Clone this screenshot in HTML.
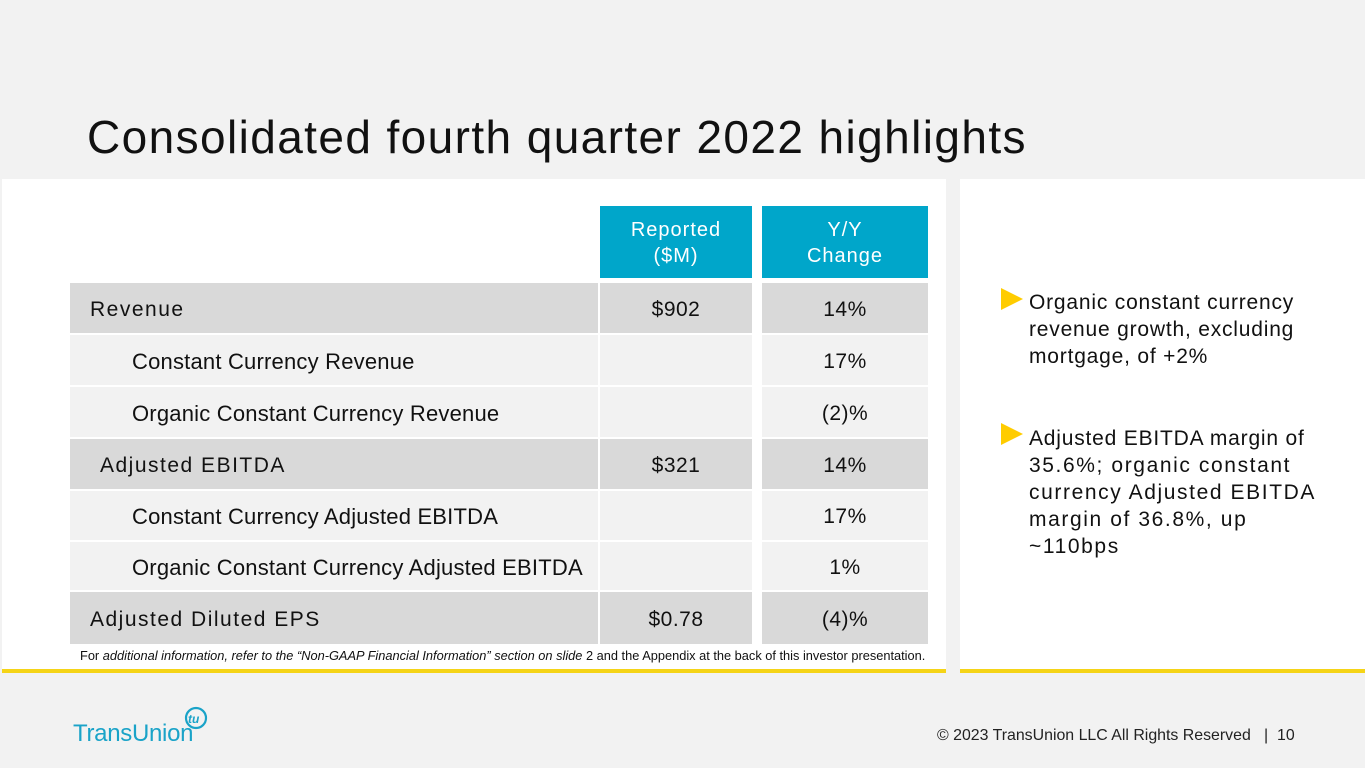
<!DOCTYPE html>
<html><head><meta charset="utf-8"><style>
body{margin:0;width:1365px;height:768px;background:#f2f2f2;font-family:"Liberation Sans",sans-serif;position:relative;overflow:hidden;color:#111}
.a{position:absolute}
.cell{position:absolute;display:flex;align-items:center;font-size:21px;box-sizing:border-box;padding-top:3px}
.d{background:#d9d9d9}.l{background:#f2f2f2}
.c{justify-content:center}
.h{background:#00a6ca;color:#fff;justify-content:center;text-align:center;line-height:26px;letter-spacing:1px;font-size:20px;padding-top:2px}
.tri{width:0;height:0;border-top:11px solid transparent;border-bottom:11px solid transparent;border-left:22px solid #ffcc00}
.bt{font-size:21px;line-height:27px;letter-spacing:0.8px}
</style></head><body>
<div class="a" style="left:87px;top:110px;font-size:46px;letter-spacing:1.4px;color:#111">Consolidated fourth quarter 2022 highlights</div>
<div class="a" style="left:2px;top:179px;width:944px;height:490px;background:#fff;border-bottom:4px solid #f5d417"></div>
<div class="a" style="left:960px;top:179px;width:405px;height:490px;background:#fff;border-bottom:4px solid #f5d417"></div>

<div class="cell h" style="left:600px;top:206px;width:152px;height:72px">Reported<br>($M)</div>
<div class="cell h" style="left:762px;top:206px;width:166px;height:72px">Y/Y<br>Change</div>

<div id="rows"></div>

<div class="a" style="left:80px;top:648px;font-size:12.8px;color:#111">For <i>additional information, refer to the “Non-GAAP Financial Information” section on slide</i> 2 and the Appendix at the back of this investor presentation.</div>

<div class="a tri" style="left:1001px;top:288px"></div>
<div class="a bt" style="left:1029px;top:289px;width:336px">Organic constant currency<br>revenue growth, excluding<br>mortgage, of +2%</div>
<div class="a tri" style="left:1001px;top:423px"></div>
<div class="a bt" style="left:1029px;top:425px;width:336px">Adjusted EBITDA margin of<br><span style="letter-spacing:1.6px">35.6%; organic constant<br>currency Adjusted EBITDA<br>margin of 36.8%, up<br>~110bps</span></div>

<div class="a" style="left:73px;top:704px;width:140px;height:42px">
<svg width="140" height="42" viewBox="0 0 140 42"><text x="0" y="37" font-family="Liberation Sans,sans-serif" font-size="24" letter-spacing="-0.3" fill="#1aa3c8">TransUnion</text><circle cx="123" cy="14" r="10" fill="none" stroke="#1aa3c8" stroke-width="2.2"/><text x="115" y="19" font-family="Liberation Sans,sans-serif" font-size="12" font-weight="bold" font-style="italic" fill="#1aa3c8">tu</text></svg></div>
<div class="a" style="left:937px;top:727px;font-size:15.9px;color:#222">© 2023 TransUnion LLC All Rights Reserved &nbsp; | &nbsp;10</div>

<script>
const labels=["Revenue","Constant Currency Revenue","Organic Constant Currency Revenue","Adjusted EBITDA","Constant Currency Adjusted EBITDA","Organic Constant Currency Adjusted EBITDA","Adjusted Diluted EPS"];
const reported=["$902","","","$321","","","$0.78"];
const yoy=["14%","17%","(2)%","14%","17%","1%","(4)%"];
const dark=[1,0,0,1,0,0,1];
const indent=[20,62,62,30,62,62,20];
const tops=[283,335,387,439,491,542,592];
const hs=[50,50,50,50,49,48,52];
const root=document.getElementById('rows');
labels.forEach((lab,i)=>{
  const cls='cell '+(dark[i]?'d':'l');
  const sp=dark[i]?'letter-spacing:1.5px;':'letter-spacing:0.2px;font-size:22px;';
  const a=document.createElement('div');a.className=cls;
  
  
  a.style.cssText=`left:70px;top:${tops[i]}px;width:528px;height:${hs[i]}px;padding-left:${indent[i]}px;${sp}`;a.textContent=lab;root.appendChild(a);
  const b=document.createElement('div');b.className=cls+' c';
  
  
  b.style.cssText=`left:600px;top:${tops[i]}px;width:152px;height:${hs[i]}px;letter-spacing:0.5px`;b.textContent=reported[i];root.appendChild(b);
  const c=document.createElement('div');c.className=cls+' c';
  
  
  c.style.cssText=`left:762px;top:${tops[i]}px;width:166px;height:${hs[i]}px;letter-spacing:0.5px`;c.textContent=yoy[i];root.appendChild(c);
});
</script>
</body></html>
